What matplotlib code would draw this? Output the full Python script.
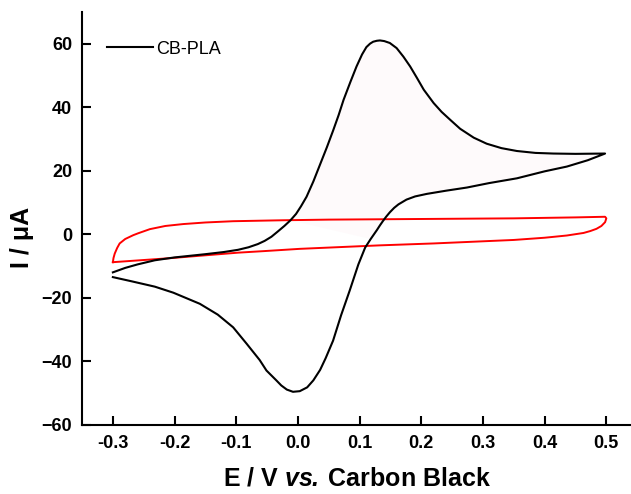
import numpy as np
import matplotlib.pyplot as plt

plt.rcParams['font.family'] = ['Liberation Sans', 'DejaVu Sans']
plt.rcParams['mathtext.fontset'] = 'custom'
plt.rcParams['mathtext.bfit'] = 'Liberation Sans:italic:bold'
plt.rcParams['mathtext.bf'] = 'Liberation Sans:bold'

# CB-PLA cyclic voltammogram, forward (anodic) scan
e_fwd = [-0.300, -0.280, -0.260, -0.232, -0.200, -0.151, -0.120, -0.097, -0.080,
         -0.065, -0.054, -0.043, -0.033, -0.022, -0.012, -0.003, 0.005, 0.014,
         0.025, 0.036, 0.047, 0.057, 0.066, 0.074, 0.085, 0.095, 0.104, 0.111,
         0.117, 0.122, 0.128, 0.133, 0.140, 0.149, 0.160, 0.171, 0.182, 0.193,
         0.204, 0.220, 0.233, 0.247, 0.263, 0.285, 0.306, 0.330, 0.355, 0.385,
         0.414, 0.450, 0.498]
i_fwd = [-12.0, -10.6, -9.5, -8.2, -7.3, -6.3, -5.6, -4.9, -4.1,
         -3.1, -2.1, -0.8, 0.8, 2.6, 4.4, 6.4, 8.8, 11.8,
         16.6, 22.0, 27.4, 32.6, 37.5, 42.3, 47.9, 52.8, 56.6, 58.9,
         60.0, 60.6, 60.9, 61.0, 60.8, 60.2, 58.6, 55.9, 52.8, 49.2,
         45.5, 41.3, 38.5, 36.0, 33.2, 30.4, 28.5, 27.1, 26.2, 25.6,
         25.4, 25.3, 25.4]

# reverse (cathodic) scan
e_rev = [0.498, 0.470, 0.436, 0.400, 0.355, 0.310, 0.274, 0.240, 0.209, 0.190,
         0.176, 0.163, 0.156, 0.149, 0.143, 0.138, 0.133, 0.128, 0.118, 0.109,
         0.098, 0.084, 0.070, 0.057, 0.045, 0.036, 0.025, 0.015, 0.003, -0.008,
         -0.018, -0.027, -0.035, -0.051, -0.062, -0.083, -0.105, -0.130, -0.159,
         -0.202, -0.232, -0.270, -0.300]
i_rev = [25.4, 23.3, 21.3, 19.8, 17.6, 16.1, 14.7, 13.7, 12.7, 11.9,
         10.9, 9.4, 8.3, 6.9, 5.5, 4.2, 2.8, 1.3, -1.5, -4.2,
         -9.5, -17.7, -25.5, -33.5, -39.0, -42.7, -46.0, -48.2, -49.4, -49.6,
         -48.9, -47.6, -46.0, -42.9, -39.6, -34.5, -29.3, -25.3, -21.9,
         -18.4, -16.5, -14.8, -13.5]

# blank (red) loop
e_blank = [-0.300, -0.299, -0.297, -0.293, -0.289, -0.280, -0.267, -0.259, -0.240,
           -0.215, -0.186, -0.150, -0.105, -0.024, 0.050, 0.200, 0.350, 0.450, 0.498,
           0.500, 0.498, 0.492, 0.484, 0.474, 0.463, 0.436, 0.400, 0.350, 0.220,
           0.133, 0.003, -0.054, -0.097, -0.205, -0.300]
i_blank = [-8.8, -7.5, -6.1, -4.3, -2.9, -1.5, -0.3, 0.3, 1.6,
           2.6, 3.2, 3.7, 4.1, 4.4, 4.6, 4.8, 5.0, 5.3, 5.5,
           5.0, 3.8, 2.6, 1.7, 1.0, 0.4, -0.4, -1.1, -1.8, -2.9,
           -3.5, -4.6, -5.3, -5.8, -7.5, -8.8]

fig = plt.figure(figsize=(6.31, 4.94), dpi=100)
ax = fig.add_axes([0.130, 0.140, 0.870, 0.836])

# barely visible shading of the oxidation region
e_f = np.array(e_fwd)
e_r = np.array(e_rev)
mf = e_f >= -0.012
mr = e_r >= 0.118
poly_e = np.concatenate([e_f[mf], e_r[mr]])
poly_i = np.concatenate([np.array(i_fwd)[mf], np.array(i_rev)[mr]])
ax.fill(poly_e, poly_i, color='#fefafb', lw=0, zorder=1)

ax.plot(e_blank, i_blank, color='#ff0000', lw=1.4, zorder=2)
ax.plot(e_fwd + e_rev, i_fwd + i_rev, color='black', lw=1.5, zorder=3, label='CB-PLA')

ax.set_xlim(-0.35, 0.54)
ax.set_ylim(-60, 70)
ax.set_xticks([-0.3, -0.2, -0.1, 0.0, 0.1, 0.2, 0.3, 0.4, 0.5])
ax.set_yticks([-60, -40, -20, 0, 20, 40, 60])
ax.xaxis.set_major_formatter(plt.FuncFormatter(lambda v, p: f'{v:.1f}'))

for s in ['top', 'right']:
    ax.spines[s].set_visible(False)
for s in ['left', 'bottom']:
    ax.spines[s].set_linewidth(1.5)

ax.tick_params(direction='in', length=6.5, width=1.5, labelsize=13, pad=7)
for lab in ax.get_xticklabels() + ax.get_yticklabels():
    lab.set_fontweight('bold')

ax.set_xlabel(r'E / V $\mathbfit{vs.}\,$Carbon Black', fontsize=18, fontweight='bold', labelpad=11)
fig.text(0.035, 0.52, 'I / μA', rotation=90, fontsize=18, fontweight='bold',
         ha='center', va='center')

ax.legend(loc='upper left', bbox_to_anchor=(0.045, 0.93), frameon=False,
          fontsize=13, handlelength=2.55, handletextpad=0.2, borderpad=0, borderaxespad=0)

fig.savefig('out.png', dpi=100)
